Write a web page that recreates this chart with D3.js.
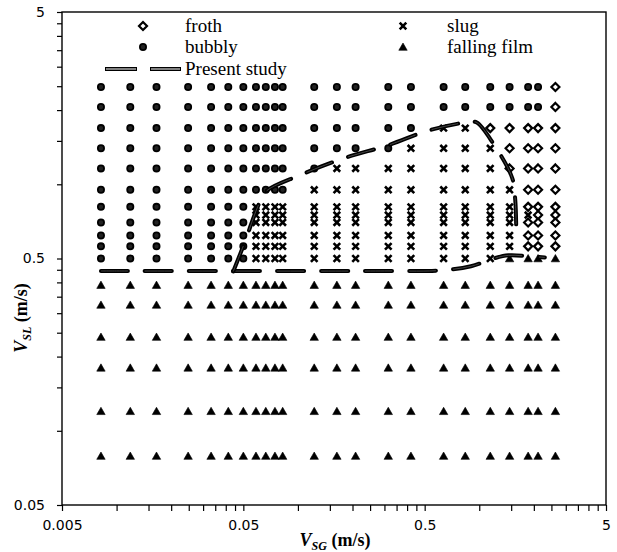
<!DOCTYPE html>
<html lang="en">
<head>
  <meta charset="UTF-8">
  <title>Flow regime map</title>
  <script src="https://d3js.org/d3.v7.min.js"></script>
  <style>
    body { margin: 0; background: #fff; }
  </style>
</head>
<body>
  <div id="chart"></div>
  <script>
    // gas superficial velocity of each measured column (m/s)
    const vsg = [0.0082, 0.0119, 0.0166, 0.0248, 0.0332, 0.0413, 0.05, 0.0587, 0.0665, 0.0747, 0.0824,
                 0.123, 0.164, 0.208, 0.315, 0.42, 0.636, 0.837, 1.15, 1.47, 1.86, 2.11, 2.63];
    // liquid superficial velocity of each measured row (m/s)
    const vsl = [2.48, 2.06, 1.69, 1.40, 1.16, 0.95, 0.81, 0.75, 0.70, 0.62, 0.56, 0.50,
                 0.39, 0.324, 0.24, 0.18, 0.12, 0.079];
    // observed regime per row (one char per vsg column): b bubbly, s slug, f froth, t falling film
    const regimes = [
      "bbbbbbbbbbbbbbbbbbbbbbf",
      "bbbbbbbbbbbbbbbbbbbbbbf",
      "bbbbbbbbbbbbbbbbssfffff",
      "bbbbbbbbbbbbbbbssssffff",
      "bbbbbbbbbbbbsssssssffff",
      "bbbbbbbbbbbsssssssssfff",
      "bbbbbbbsssssssssssssfff",
      ".......ssssssssssssssff",
      "bbbbbbbsssssssssssssfff",
      "bbbbbbbsssssssssssssfff",
      "bbbbbbbsssssssssssssfff",
      "bbbbbbbsssssssssssstttt",
      "ttttttttttttttttttttttt",
      "ttttttttttttttttttttttt",
      "ttttttttttttttttttttttt",
      "ttttttttttttttttttttttt",
      "ttttttttttttttttttttttt",
      "ttttttttttttttttttttttt"
    ];
    // present study transition lines [vsg, vsl]
    const lineLower = [[0.0082, 0.445], [0.3, 0.445], [0.6, 0.447], [0.9, 0.465], [1.2, 0.5], [1.45, 0.515], [1.9, 0.51], [2.3, 0.505]];
    const lineUpper = [[0.044, 0.443], [0.0508, 0.58], [0.06, 0.81], [0.066, 0.93], [0.103, 1.09], [0.182, 1.28],
                       [0.314, 1.44], [0.536, 1.66], [0.89, 1.79], [0.97, 1.78], [1.19, 1.47], [1.52, 1.06], [1.58, 0.86], [1.6, 0.64]];
    const xMajor = [0.005, 0.05, 0.5, 5];
    const yMajor = [0.05, 0.5, 5];
    const legendItems = [
      { key: "f", label: "froth" }, { key: "b", label: "bubbly" },
      { key: "s", label: "slug" }, { key: "t", label: "falling film" }
    ];

    const width = 617, height = 552;
    const margin = { top: 12, right: 11, bottom: 47, left: 62 };

    const svg = d3.select("#chart").append("svg")
      .attr("width", width)
      .attr("height", height);

    const x = d3.scaleLog().domain([0.005, 5]).range([margin.left, width - margin.right]);
    const y = d3.scaleLog().domain([0.05, 5]).range([height - margin.bottom, margin.top]);

    // minor ticks at multiples of each major value
    const minorTicks = (majors) => {
      const t = [];
      majors.slice(0, -1).forEach(m => { for (let k = 1; k < 10; k++) t.push(m * k); });
      t.push(majors[majors.length - 1]);
      return t;
    };
    const isMajor = (v, majors) => majors.some(m => Math.abs(v - m) / m < 1e-6);

    const xAxis = d3.axisBottom(x)
      .tickValues(minorTicks(xMajor))
      .tickSizeInner(6).tickSizeOuter(0).tickPadding(9)
      .tickFormat(d => isMajor(d, xMajor) ? String(+d.toPrecision(3)) : "");
    const yAxis = d3.axisLeft(y)
      .tickValues(minorTicks(yMajor))
      .tickSizeInner(5).tickSizeOuter(0).tickPadding(12)
      .tickFormat(d => isMajor(d, yMajor) ? String(+d.toPrecision(3)) : "");

    const gx = svg.append("g")
      .attr("transform", `translate(0,${height - margin.bottom})`)
      .call(xAxis);
    const gy = svg.append("g")
      .attr("transform", `translate(${margin.left},0)`)
      .call(yAxis);
    [gx, gy].forEach(g => {
      g.select(".domain").remove();
      g.selectAll("line").attr("stroke", "#000").attr("stroke-width", 1.2);
      g.selectAll("text").attr("font-family", "DejaVu Sans, sans-serif").attr("font-size", 14).attr("fill", "#000");
    });

    // plot frame
    svg.append("rect")
      .attr("x", margin.left).attr("y", margin.top)
      .attr("width", width - margin.left - margin.right)
      .attr("height", height - margin.top - margin.bottom)
      .attr("fill", "none").attr("stroke", "#000").attr("stroke-width", 1.4);

    // marker drawing
    function drawMarker(g, key) {
      if (key === "b") {
        g.append("circle").attr("r", 3.1).attr("fill", "#222").attr("stroke", "#000").attr("stroke-width", 1.8);
      } else if (key === "f") {
        g.append("path").attr("d", "M0,-4L4,0L0,4L-4,0Z")
          .attr("fill", "#fff").attr("stroke", "#000").attr("stroke-width", 2.2);
      } else if (key === "s") {
        g.append("path").attr("d", "M-3.3,-3.3L3.3,3.3M-3.3,3.3L3.3,-3.3")
          .attr("stroke", "#000").attr("stroke-width", 2.6).attr("fill", "none");
      } else if (key === "t") {
        g.append("path").attr("d", "M0,-4L4.2,3.3L-4.2,3.3Z").attr("fill", "#000")
          .attr("stroke", "#000").attr("stroke-width", 0.6);
      }
    }

    const points = [];
    regimes.forEach((row, i) => {
      row.split("").forEach((c, j) => {
        if (c !== "." && j < vsg.length) points.push({ x: vsg[j], y: vsl[i], key: c });
      });
    });

    const marks = svg.append("g");
    points.forEach(p => {
      const g = marks.append("g").attr("transform", `translate(${x(p.x)},${y(p.y)})`);
      drawMarker(g, p.key);
    });

    // present study lines
    const line = d3.line().x(d => x(d[0])).y(d => y(d[1])).curve(d3.curveCatmullRom);
    [lineLower, lineUpper].forEach(data => {
      svg.append("path").attr("d", line(data))
        .attr("fill", "none").attr("stroke", "#000").attr("stroke-width", 4)
        .attr("stroke-linecap", "round")
        .attr("stroke-dasharray", "27,17");
      svg.append("path").attr("d", line(data))
        .attr("fill", "none").attr("stroke", "#555").attr("stroke-width", 0.8)
        .attr("stroke-dasharray", "27,17");
    });

    // legend
    const legend = svg.append("g").attr("font-family", "Liberation Serif, Times New Roman, serif").attr("font-size", 19);
    const legendPos = [[143, 185, 26], [143, 185, 47], [403, 447, 26], [403, 447, 47]];
    legendItems.forEach((item, i) => {
      const [mx, tx, ly] = legendPos[i];
      drawMarker(legend.append("g").attr("transform", `translate(${mx},${ly})`), item.key);
      legend.append("text").attr("x", tx).attr("y", ly).attr("dy", "0.32em").text(item.label);
    });
    const lg = legend.append("g");
    [[105, 137], [150, 181]].forEach(([a, b]) => {
      lg.append("line").attr("x1", a).attr("x2", b).attr("y1", 69).attr("y2", 69)
        .attr("stroke", "#000").attr("stroke-width", 4);
      lg.append("line").attr("x1", a + 1).attr("x2", b - 1).attr("y1", 69).attr("y2", 69)
        .attr("stroke", "#aaa").attr("stroke-width", 1.5);
    });
    legend.append("text").attr("x", 185).attr("y", 69).attr("dy", "0.32em").text("Present study");

    // axis titles
    const xt = svg.append("text")
      .attr("x", 335).attr("y", 546)
      .attr("text-anchor", "middle")
      .attr("font-family", "Liberation Serif, Times New Roman, serif")
      .attr("font-weight", "bold").attr("font-size", 18);
    xt.append("tspan").attr("font-style", "italic").text("V");
    xt.append("tspan").attr("font-style", "italic").attr("font-size", 12).attr("dy", 4).text("SG");
    xt.append("tspan").attr("dy", -4).text(" (m/s)");

    const yt = svg.append("text")
      .attr("transform", "translate(27,318) rotate(-90)")
      .attr("text-anchor", "middle")
      .attr("font-family", "Liberation Serif, Times New Roman, serif")
      .attr("font-weight", "bold").attr("font-size", 18);
    yt.append("tspan").attr("font-style", "italic").text("V");
    yt.append("tspan").attr("font-style", "italic").attr("font-size", 12).attr("dy", 4).text("SL");
    yt.append("tspan").attr("dy", -4).text(" (m/s)");
  </script>
</body>
</html>
